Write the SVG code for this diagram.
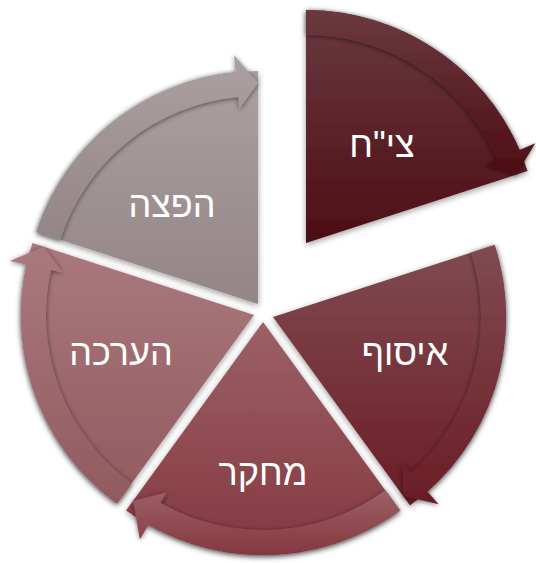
<svg xmlns="http://www.w3.org/2000/svg" width="536" height="563" viewBox="0 0 536 563">
<defs>
<style>
.lbl{font-family:"Liberation Sans","DejaVu Sans",sans-serif;font-size:36px;fill:#ffffff;text-anchor:middle}
.wedge{filter:url(#wsh)}
.band{filter:url(#bsh)}
</style>
<filter id="wsh" x="-20%" y="-20%" width="140%" height="140%">
<feDropShadow dx="0" dy="2" stdDeviation="3" flood-color="#000" flood-opacity="0.4"/>
</filter>
<filter id="bsh" x="-20%" y="-20%" width="140%" height="140%">
<feDropShadow dx="0" dy="1" stdDeviation="2.5" flood-color="#000" flood-opacity="0.55"/>
</filter>
<linearGradient id="g1" x1="0" y1="0" x2="0" y2="1"><stop offset="0" stop-color="#6a3a40"/><stop offset="1" stop-color="#4d0d15"/></linearGradient>
<linearGradient id="g2" x1="0" y1="0" x2="0" y2="1"><stop offset="0" stop-color="#804b51"/><stop offset="1" stop-color="#6b1d26"/></linearGradient>
<linearGradient id="g3" x1="0" y1="0" x2="0" y2="1"><stop offset="0" stop-color="#9c6066"/><stop offset="1" stop-color="#843840"/></linearGradient>
<linearGradient id="g4" x1="0" y1="0" x2="0" y2="1"><stop offset="0" stop-color="#aa797d"/><stop offset="1" stop-color="#925a60"/></linearGradient>
<linearGradient id="g5" x1="0" y1="0" x2="0" y2="1"><stop offset="0" stop-color="#aba0a1"/><stop offset="1" stop-color="#948586"/></linearGradient>
</defs>
<g id="seg1">
<path class="wedge" fill="url(#g1)" d="M306 243 L306 10 A233 233 0 0 1 527.6 171 Z"/>
<path class="band" fill="url(#g1)" d="M306 10 A233 233 0 0 1 519.7 150.1 L535.3 143.3 L516.2 174.7 L485.8 164.9 L496.8 160.1 A208 208 0 0 0 306 35 Z"/>
<text class="lbl" x="382" y="157">צי"ח</text>
</g>
<g id="seg2">
<path class="wedge" fill="url(#g2)" d="M273 317 L494.6 245 A233 233 0 0 1 410 505.5 Z"/>
<path class="band" fill="url(#g2)" d="M494.6 245 A233 233 0 0 1 427.4 491.5 L438.6 504.3 L402.9 495.8 L402.9 463.8 L410.8 472.8 A208 208 0 0 0 470.8 252.7 Z"/>
<text class="lbl" x="405" y="365">איסוף</text>
</g>
<g id="seg3">
<path class="wedge" fill="url(#g3)" d="M263 322 L400 510.5 A233 233 0 0 1 126 510.5 Z"/>
<path class="band" fill="url(#g3)" d="M400 510.5 A233 233 0 0 1 148.3 524.8 L139.9 539.6 L133.1 500.8 L166.5 492.6 L160.6 503 A208 208 0 0 0 385.3 490.3 Z"/>
<text class="lbl" x="263" y="485">מחקר</text>
</g>
<g id="seg4">
<path class="wedge" fill="url(#g4)" d="M254 315 L117 503.5 A233 233 0 0 1 32.4 243 Z"/>
<path class="band" fill="url(#g4)" d="M117 503.5 A233 233 0 0 1 26.5 264.6 L9.9 260.9 L43.8 246.7 L62.6 272.6 L50.9 270 A208 208 0 0 0 131.7 483.3 Z"/>
<text class="lbl" x="121" y="365">הערכה</text>
</g>
<g id="seg5">
<path class="wedge" fill="url(#g5)" d="M258 304 L36.4 232 A233 233 0 0 1 258 71 Z"/>
<path class="band" fill="url(#g5)" d="M36.4 232 A233 233 0 0 1 235.7 72.1 L234 55.1 L258 83 L239.2 108.9 L238.1 97 A208 208 0 0 0 60.2 239.7 Z"/>
<text class="lbl" x="172" y="217">הפצה</text>
</g>
<g id="connectors"></g>
</svg>
